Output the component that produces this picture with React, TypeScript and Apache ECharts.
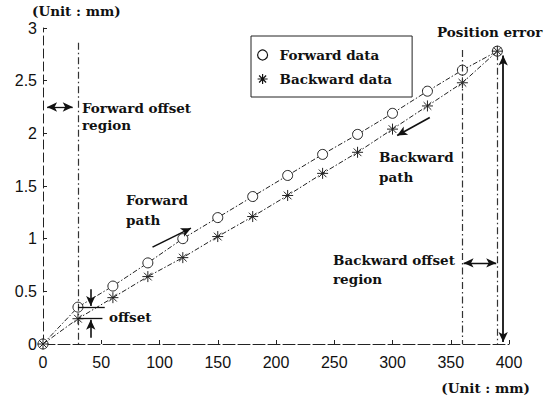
import React, { useEffect, useRef } from "react";
import * as echarts from "echarts";

const xValues = [0, 30, 60, 90, 120, 150, 180, 210, 240, 270, 300, 330, 360, 390];
const forwardValues = [0, 0.35, 0.55, 0.77, 1.0, 1.2, 1.4, 1.6, 1.8, 1.99, 2.19, 2.4, 2.6, 2.78];
const backwardValues = [0, 0.24, 0.44, 0.64, 0.82, 1.02, 1.21, 1.41, 1.62, 1.82, 2.04, 2.26, 2.48, 2.78];
const seriesNames = ["Forward data", "Backward data"];
const xRange = { min: 0, max: 400, interval: 50 };
const yRange = { min: 0, max: 3, interval: 0.5 };

// annotation guide values (data coordinates)
const offsetRegionLines = [
  [[30, 2.86], [30, 0]],
  [[360, 2.79], [360, 0]],
  [[390, 2.76], [390, 0]],
];
const errorArrow = [[395, 2.74], [395, 0.02]];
const errorTick = [[389, 2.79], [402, 2.79]];
const doubleArrows = [
  [[3.5, 2.25], [25.5, 2.25]],
  [[361, 0.77], [389, 0.77]],
];
const singleArrows = [
  [[94, 0.92], [127, 1.1]],
  [[332, 2.15], [304, 1.98]],
  [[41, 0.52], [41, 0.36]],
  [[41, 0.06], [41, 0.23]],
];
const offsetTicks = [
  [[30, 0.35], [53, 0.35]],
  [[30, 0.24], [51, 0.24]],
];

const STAR = "path://M0,5L10,5M5,0L5,10M1.5,1.5L8.5,8.5M8.5,1.5L1.5,8.5";
const SERIF = '"DejaVu Serif", serif';
const SANS = '"Liberation Sans", Arial, sans-serif';

export default function App() {
  const ref = useRef<HTMLDivElement>(null);
  useEffect(() => {
    if (!ref.current) return;
    const chart = echarts.init(ref.current, null, { renderer: "svg" });
    const dashDot = { type: [7, 3, 1.5, 3], color: "#333", width: 1.2 };
    const seg = (pair: number[][], lineStyle: any, s0: string, s1: string) => [
      { coord: pair[0], symbol: s0, lineStyle },
      { coord: pair[1], symbol: s1 },
    ];
    const thin = { type: "solid", color: "#111", width: 1.3 };
    const markData = [
      ...offsetRegionLines.map((p) => seg(p, dashDot, "none", "none")),
      seg(errorArrow, { type: "solid", color: "#111", width: 1.8 }, "arrow", "arrow"),
      seg(errorTick, thin, "none", "none"),
      ...doubleArrows.map((p) => seg(p, thin, "arrow", "arrow")),
      ...singleArrows.map((p) => seg(p, { type: "solid", color: "#111", width: 1.6 }, "none", "arrow")),
      ...offsetTicks.map((p) => seg(p, thin, "none", "none")),
    ];
    const lineStyle = { type: [5, 2, 1.5, 2], width: 1, color: "#222" };
    const textEl = (text: string, x: number, y: number, va = "middle", lh = 17, align = "left") => ({
      type: "text",
      x,
      y,
      style: {
        text,
        font: `bold 13.5px ${SERIF}`,
        fill: "#111",
        align,
        verticalAlign: va,
        lineHeight: lh,
      },
    });
    chart.setOption({
      animation: false,
      backgroundColor: "#fff",
      grid: { left: 43, right: 36, top: 28, bottom: 55, containLabel: false },
      xAxis: {
        type: "value",
        min: xRange.min,
        max: xRange.max,
        interval: xRange.interval,
        axisLine: { lineStyle: { color: "#222", width: 1, type: [12, 3] } },
        axisTick: { inside: true, length: 4, lineStyle: { color: "#222" } },
        splitLine: { show: false },
        axisLabel: { color: "#111", fontFamily: SANS, fontSize: 16, margin: 10 },
      },
      yAxis: {
        type: "value",
        min: yRange.min,
        max: yRange.max,
        interval: yRange.interval,
        axisLine: { show: true, lineStyle: { color: "#222", width: 1, type: [9, 4] } },
        axisTick: { show: true, inside: true, length: 4, lineStyle: { color: "#222" } },
        splitLine: { show: false },
        axisLabel: { color: "#111", fontFamily: SANS, fontSize: 16, margin: 6 },
      },
      legend: {
        orient: "vertical",
        left: 251,
        top: 36,
        width: 153,
        padding: [12, 20, 11, 6],
        itemGap: 10,
        itemWidth: 10,
        itemHeight: 10,
        borderColor: "#222",
        borderWidth: 1,
        textStyle: { fontFamily: SERIF, fontWeight: "bold", fontSize: 13.5, color: "#111", padding: [0, 0, 0, 7] },
        data: [
          { name: seriesNames[0], icon: "circle", itemStyle: { color: "transparent", borderColor: "#111", borderWidth: 1.2 } },
          { name: seriesNames[1], icon: STAR, itemStyle: { color: "transparent", borderColor: "#111", borderWidth: 1.2 } },
        ],
      },
      series: [
        {
          name: seriesNames[0],
          type: "line",
          data: xValues.map((x, i) => [x, forwardValues[i]]),
          symbol: "circle",
          symbolSize: 10,
          showSymbol: true,
          itemStyle: { color: "#fff", borderColor: "#222", borderWidth: 1 },
          lineStyle,
          z: 3,
        },
        {
          name: seriesNames[1],
          type: "line",
          data: xValues.map((x, i) => [x, backwardValues[i]]),
          symbol: STAR,
          symbolSize: 11,
          itemStyle: { color: "transparent", borderColor: "#222", borderWidth: 1 },
          lineStyle,
          z: 4,
          markLine: {
            silent: true,
            symbolSize: [7, 10],
            label: { show: false },
            lineStyle: { color: "#111" },
            data: markData,
          },
        },
      ],
      graphic: [
        textEl("(Unit : mm)", 32, 11),
        textEl("Forward offset\nregion", 82, 99, "top", 17),
        textEl("Position error", 437, 32),
        textEl("Forward\npath", 126, 190, "top", 20),
        textEl("Backward\npath", 379, 147, "top", 20),
        textEl("Backward offset\nregion", 333, 250, "top", 19),
        textEl("offset", 109, 317),
        textEl("(Unit : mm)", 530, 388, "middle", 17, "right"),
      ],
    });
    return () => chart.dispose();
  }, []);
  return (
    <div
      ref={ref}
      style={{ position: "absolute", left: 0, top: 0, width: 545, height: 399 }}
    />
  );
}
